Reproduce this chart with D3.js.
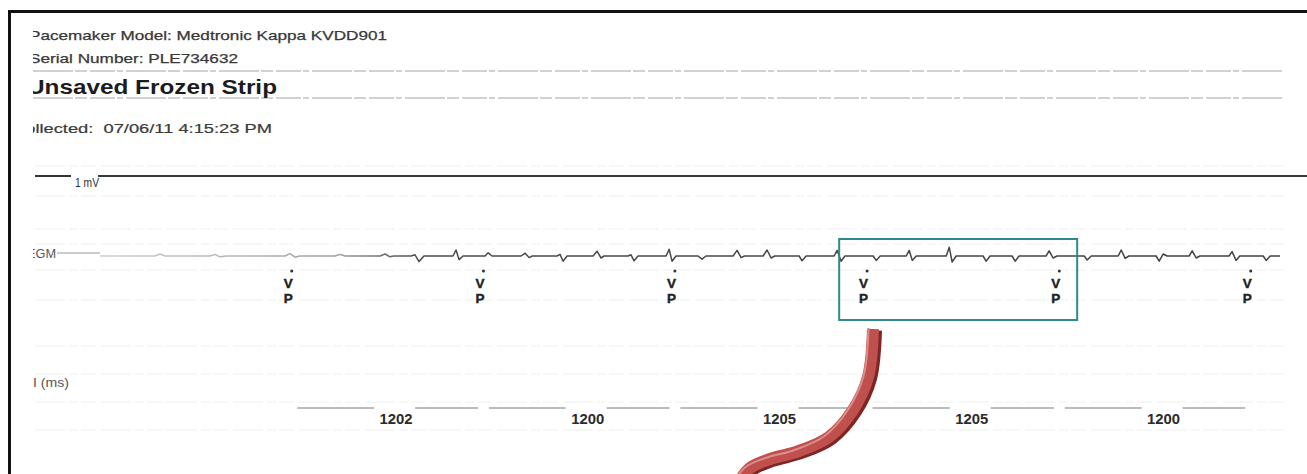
<!DOCTYPE html>
<html>
<head>
<meta charset="utf-8">
<script src="https://cdn.jsdelivr.net/npm/d3@7"></script>
<style>
  html, body { margin: 0; padding: 0; background: #fff; overflow: hidden; }
  svg { display: block; font-family: "Liberation Sans", Arial, sans-serif; }
</style>
</head>
<body>
<script>
const width = 1307;
const height = 474;

// header text
const headerLines = ["Pacemaker Model: Medtronic Kappa KVDD901", "Serial Number: PLE734632"];
const stripTitle = "Unsaved Frozen Strip";
const collectedLine = "Collected:  07/06/11 4:15:23 PM";

// EGM trace: [time (ms), amplitude (mV)]
const egm = [
  [0, 0], [63, 0], [345, 0], [376, 0.05], [408, 0],
  [690, 0], [721, 0.04], [752, -0.02], [790, 0],
  [1160, 0], [1191, 0.06], [1223, -0.03], [1250, 0],
  [1473, 0], [1505, 0.04], [1536, 0],
  [1756, 0], [1787, 0.05], [1818, -0.02], [1840, 0],
  [1950, 0], [1975, 0.03], [2000, -0.14], [2031, 0],
  [2213, 0], [2232, 0.15], [2251, -0.09], [2276, 0],
  [2414, 0], [2433, 0.08], [2458, 0],
  [2640, 0], [2665, 0.07], [2690, -0.04], [2710, 0],
  [2865, 0], [2884, 0.04], [2903, -0.13], [2928, 0],
  [3091, 0], [3116, 0.12], [3141, -0.05], [3160, 0],
  [3310, 0], [3329, 0.03], [3348, -0.12], [3373, 0],
  [3549, 0], [3568, 0.17], [3586, -0.13], [3611, 0],
  [3749, 0], [3774, -0.08], [3799, 0],
  [3969, 0], [3994, 0.14], [4019, -0.04], [4040, 0],
  [4157, 0], [4182, 0.15], [4207, -0.05], [4230, 0],
  [4383, 0], [4401, -0.12], [4427, 0],
  [4602, 0], [4621, 0.14], [4646, -0.13], [4670, 0],
  [4847, 0], [4866, -0.11], [4891, 0],
  [5054, 0], [5073, 0.14], [5092, -0.11], [5117, 0],
  [5305, 0], [5324, 0.22], [5342, -0.15], [5367, 0],
  [5536, 0], [5555, -0.13], [5580, 0],
  [5718, 0], [5737, -0.13], [5762, 0],
  [5931, 0], [5950, 0.13], [5975, -0.05], [6000, 0],
  [6170, 0], [6189, -0.1], [6214, 0],
  [6383, 0], [6402, 0.15], [6427, -0.06], [6450, 0],
  [6621, 0], [6640, -0.13], [6665, 0.05], [6690, 0],
  [6828, 0], [6847, 0.13], [6872, -0.05], [6895, 0],
  [7078, 0], [7097, 0.11], [7122, -0.11], [7145, 0],
  [7292, 0], [7311, -0.11], [7336, 0], [7398, 0]
];

// ventricular paced events (ms)
const vpTimes = [1180, 2382, 3582, 4787, 5992, 7192];
const markerLabels = ["V", "P"];

// V-V intervals (ms)
const intervals = [1202, 1200, 1205, 1205, 1200];

// zoomed window on the strip (ms)
const highlight = [4634, 6126];

// callout arrow, pixel path of the ribbon
const arrowPath = [[873, 329], [868, 377], [853, 410], [829, 437], [799, 451], [770, 459], [750, 468], [739, 482]];

const svg = d3.select("body")
  .append("svg")
  .attr("width", width)
  .attr("height", height);

const defs = svg.append("defs");

defs.append("clipPath")
  .attr("id", "page-clip")
  .append("rect")
  .attr("x", 33)
  .attr("y", 12)
  .attr("width", width - 33)
  .attr("height", height);

const grad = defs.append("linearGradient")
  .attr("id", "trace-grad")
  .attr("gradientUnits", "userSpaceOnUse")
  .attr("x1", 100).attr("x2", 1282).attr("y1", 0).attr("y2", 0);
grad.append("stop").attr("offset", 0).attr("stop-color", "#cfcfcf");
grad.append("stop").attr("offset", 0.2).attr("stop-color", "#a0a0a0");
grad.append("stop").attr("offset", 0.27).attr("stop-color", "#4a4a4a");
grad.append("stop").attr("offset", 1).attr("stop-color", "#404040");

const x = d3.scaleLinear().domain([0, 7410]).range([100, 1282]);
const y = d3.scaleLinear().domain([-0.5, 0.5]).range([276, 236]);

// faint scan grid
const faintRows = [166, 196, 229, 244, 270, 300, 346, 374, 402, 430];
svg.append("g")
  .selectAll("line")
  .data(faintRows)
  .join("line")
  .attr("x1", 35)
  .attr("x2", 1284)
  .attr("y1", (d) => d)
  .attr("y2", (d) => d)
  .attr("stroke", "#f0f0f0")
  .attr("stroke-width", 1.2)
  .attr("stroke-dasharray", "30,4,9,3,15,5");

// page frame
svg.append("path")
  .attr("d", `M9.5,${height} V11.5 H${width}`)
  .attr("fill", "none")
  .attr("stroke", "#111")
  .attr("stroke-width", 3);

const page = svg.append("g").attr("clip-path", "url(#page-clip)");

// header
page.selectAll("text.head")
  .data(headerLines)
  .join("text")
  .attr("class", "head")
  .attr("x", 29)
  .attr("y", (d, i) => 40 + i * 23)
  .attr("font-size", 13)
  .attr("fill", "#383838")
  .attr("stroke", "#383838")
  .attr("stroke-width", 0.25)
  .attr("textLength", (d, i) => [358, 209][i])
  .attr("lengthAdjust", "spacingAndGlyphs")
  .text((d) => d);

page.selectAll("line.sep")
  .data([71, 98])
  .join("line")
  .attr("class", "sep")
  .attr("x1", 33)
  .attr("x2", 1283)
  .attr("y1", (d) => d)
  .attr("y2", (d) => d)
  .attr("stroke", "#c2c2c2")
  .attr("stroke-width", 1.4)
  .attr("stroke-dasharray", "40,2,12,3,25,2,6,3");

page.append("text")
  .attr("x", 27)
  .attr("y", 94)
  .attr("font-size", 21)
  .attr("font-weight", "bold")
  .attr("fill", "#1c1c1c")
  .attr("textLength", 250)
  .attr("lengthAdjust", "spacingAndGlyphs")
  .text(stripTitle);

page.append("text")
  .attr("x", 12)
  .attr("y", 133)
  .attr("font-size", 12.5)
  .attr("fill", "#3a3a3a")
  .attr("stroke", "#3a3a3a")
  .attr("stroke-width", 0.2)
  .attr("textLength", 260)
  .attr("lengthAdjust", "spacingAndGlyphs")
  .attr("xml:space", "preserve")
  .text(collectedLine);

// 1 mV calibration
page.append("line")
  .attr("x1", 35).attr("x2", 71)
  .attr("y1", 176).attr("y2", 176)
  .attr("stroke", "#333").attr("stroke-width", 2);
page.append("text")
  .attr("x", 75)
  .attr("y", 187)
  .attr("font-size", 13)
  .attr("fill", "#333")
  .attr("textLength", 24)
  .attr("lengthAdjust", "spacingAndGlyphs")
  .text("1 mV");
page.append("line")
  .attr("x1", 98).attr("x2", width)
  .attr("y1", 176).attr("y2", 176)
  .attr("stroke", "#3a3a3a").attr("stroke-width", 2);

// EGM label and trace
page.append("text")
  .attr("x", 27)
  .attr("y", 258)
  .attr("font-size", 12.5)
  .attr("fill", "#555")
  .attr("textLength", 29)
  .attr("lengthAdjust", "spacingAndGlyphs")
  .text("EGM");
page.append("line")
  .attr("x1", 57).attr("x2", 100)
  .attr("y1", 253).attr("y2", 253)
  .attr("stroke", "#9a9a9a").attr("stroke-width", 1.2);

page.append("path")
  .datum(egm)
  .attr("fill", "none")
  .attr("stroke", "url(#trace-grad)")
  .attr("stroke-width", 1.5)
  .attr("stroke-linejoin", "round")
  .attr("d", d3.line().x((d) => x(d[0])).y((d) => y(d[1])));

// marker channel
const markers = page.append("g")
  .selectAll("g")
  .data(vpTimes)
  .join("g")
  .attr("transform", (d) => `translate(${x(d)},0)`);

markers.append("circle")
  .attr("cx", 3.5)
  .attr("cy", 271)
  .attr("r", 1.5)
  .attr("fill", "#333");

markers.selectAll("text")
  .data(markerLabels)
  .join("text")
  .attr("y", (d, i) => 288 + i * 15)
  .attr("text-anchor", "middle")
  .attr("font-size", 13)
  .attr("font-weight", "bold")
  .attr("fill", "#222")
  .attr("stroke", "#222")
  .attr("stroke-width", 0.4)
  .attr("textLength", 9)
  .attr("lengthAdjust", "spacingAndGlyphs")
  .text((d) => d);

// interval row
page.append("text")
  .attr("x", 33)
  .attr("y", 387)
  .attr("font-size", 12.5)
  .attr("fill", "#555")
  .attr("textLength", 36)
  .attr("lengthAdjust", "spacingAndGlyphs")
  .attr("xml:space", "preserve")
  .text("I (ms)");

const ivl = page.append("g")
  .selectAll("g")
  .data(intervals)
  .join("g")
  .attr("transform", (d, i) => `translate(${(x(vpTimes[i]) + x(vpTimes[i + 1])) / 2 + 12},0)`);

ivl.append("text")
  .attr("y", 424)
  .attr("text-anchor", "middle")
  .attr("font-size", 15.5)
  .attr("font-weight", "bold")
  .attr("fill", "#2a2a2a")
  .attr("textLength", 33)
  .attr("lengthAdjust", "spacingAndGlyphs")
  .text((d) => d);

ivl.each(function (d, i) {
  const cx = (x(vpTimes[i]) + x(vpTimes[i + 1])) / 2 + 12;
  const g = d3.select(this);
  const segs = [[x(vpTimes[i]) + 9 - cx, -22], [19, x(vpTimes[i + 1]) - 2 - cx]];
  g.selectAll("line")
    .data(segs)
    .join("line")
    .attr("x1", (s) => s[0])
    .attr("x2", (s) => s[1])
    .attr("y1", 408)
    .attr("y2", 408)
    .attr("stroke", "#a4a4a4")
    .attr("stroke-width", 1.5);
});

// highlight box
svg.append("rect")
  .attr("x", x(highlight[0]))
  .attr("y", 239)
  .attr("width", x(highlight[1]) - x(highlight[0]))
  .attr("height", 81)
  .attr("fill", "none")
  .attr("stroke", "#2e8a8e")
  .attr("stroke-width", 2);

// callout arrow
const ribbon = d3.line().curve(d3.curveCatmullRom);
svg.append("path")
  .attr("d", ribbon(arrowPath))
  .attr("transform", "translate(2.5,1.5)")
  .attr("fill", "none")
  .attr("stroke", "#7e2624")
  .attr("stroke-width", 13);
svg.append("path")
  .attr("d", ribbon(arrowPath))
  .attr("fill", "none")
  .attr("stroke", "#c0504d")
  .attr("stroke-width", 12);
svg.append("path")
  .attr("d", ribbon(arrowPath))
  .attr("transform", "translate(-4.5,-1)")
  .attr("fill", "none")
  .attr("stroke", "#dc8e8b")
  .attr("stroke-width", 2);
</script>
</body>
</html>
